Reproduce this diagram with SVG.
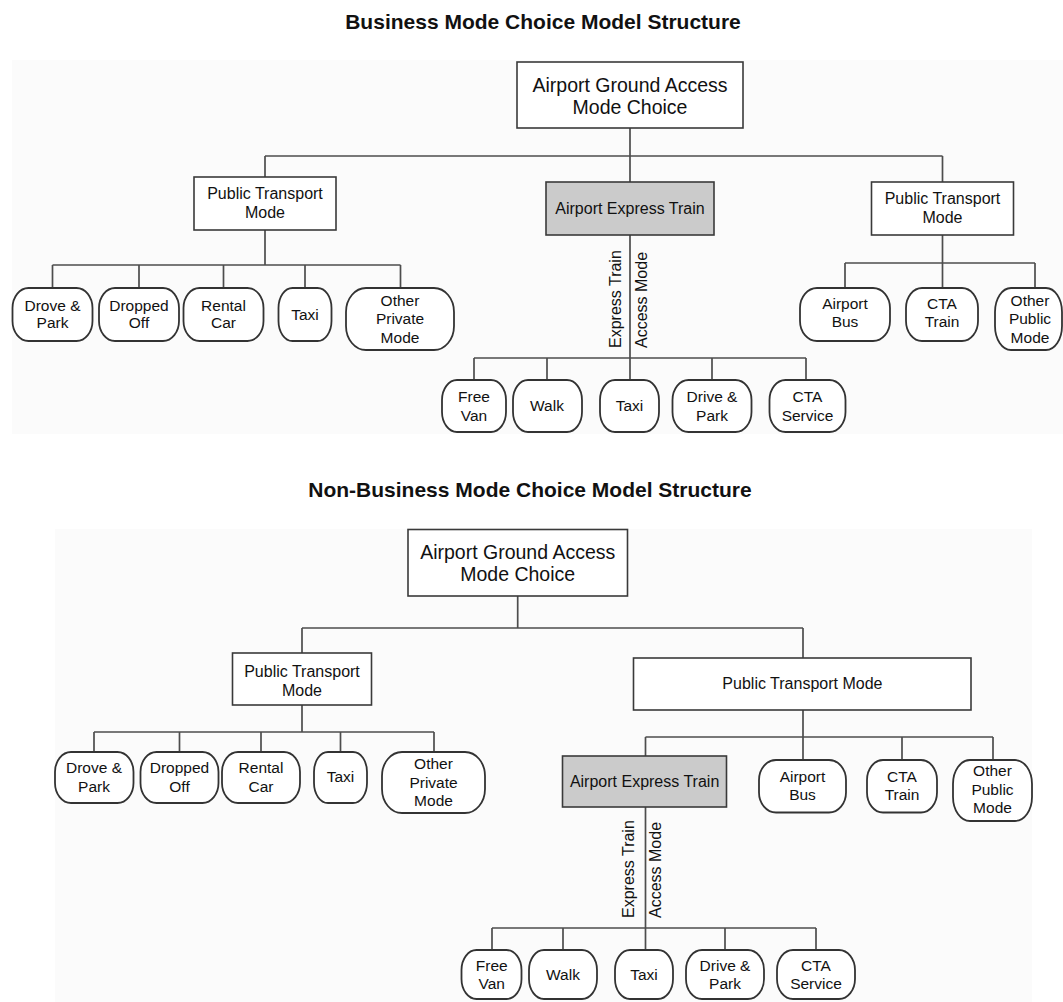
<svg xmlns="http://www.w3.org/2000/svg" width="1063" height="1002" viewBox="0 0 1063 1002">
  <style>
    .panel { fill: #fbfbfb; }
    .box { fill: #ffffff; stroke: #3a3a3a; stroke-width: 1.6; }
    .shade { fill: #cbcbcb; }
    .leaf { fill: #ffffff; stroke: #333333; stroke-width: 1.8; }
    .wire { fill: none; stroke: #4d4d4d; stroke-width: 1.7; }
    text { font-family: "Liberation Sans", Arial, Helvetica, sans-serif; fill: #111111; text-anchor: middle; }
    .title { font-size: 21px; font-weight: bold; }
    .big { font-size: 19.5px; }
    .mid { font-size: 16px; }
    .sm { font-size: 15.5px; }
    .rot { text-anchor: start; font-size: 16px; }
  </style>

  <!-- ===================== Business model ===================== -->
  <rect class="panel" x="12" y="60" width="1051" height="374"/>
  <text class="title" x="543" y="29">Business Mode Choice Model Structure</text>

  <g id="b-connectors">
    <path class="wire" d="M630,128 V182 M265,156 H942.5 M265,156 V177 M942.5,156 V182"/>
    <path class="wire" d="M265,230 V265 M52.5,265 H400.5 M52.5,265 V288 M139,265 V288 M223.5,265 V288 M305,265 V288 M400.5,265 V288"/>
    <path class="wire" d="M942.5,235 V288 M845,263 H1035 M845,263 V288 M1035,263 V288"/>
    <path class="wire" d="M630,235 V380 M474,358 H806 M474,358 V380 M547,358 V380 M712,358 V380 M806,358 V380"/>
  </g>

  <g id="b-root">
    <rect class="box" x="517" y="62" width="226" height="66"/>
    <text class="big" x="630" y="92">Airport Ground Access</text>
    <text class="big" x="630" y="114">Mode Choice</text>
  </g>
  <g id="b-private">
    <rect class="box" x="194" y="177" width="142" height="53"/>
    <text class="mid" x="265" y="199">Public Transport</text>
    <text class="mid" x="265" y="218">Mode</text>
  </g>
  <g id="b-express">
    <rect class="box shade" x="546" y="182" width="168" height="53"/>
    <text class="mid" x="630" y="213.5">Airport Express Train</text>
  </g>
  <g id="b-public">
    <rect class="box" x="871.5" y="182" width="142" height="53"/>
    <text class="mid" x="942.5" y="204">Public Transport</text>
    <text class="mid" x="942.5" y="223">Mode</text>
  </g>

  <g id="b-access-label">
    <text class="rot" transform="translate(621,348) rotate(-90)">Express Train</text>
    <text class="rot" transform="translate(647,348) rotate(-90)">Access Mode</text>
  </g>

  <g id="b-drove">
    <rect class="leaf" x="12.5" y="288" width="80" height="53" rx="16" ry="20"/>
    <text class="sm" x="52.5" y="311">Drove &amp;</text>
    <text class="sm" x="52.5" y="328">Park</text>
  </g>
  <g id="b-dropped">
    <rect class="leaf" x="99" y="288" width="80" height="53" rx="16" ry="20"/>
    <text class="sm" x="139" y="311">Dropped</text>
    <text class="sm" x="139" y="328">Off</text>
  </g>
  <g id="b-rental">
    <rect class="leaf" x="183.5" y="288" width="80" height="53" rx="16" ry="20"/>
    <text class="sm" x="223.5" y="311">Rental</text>
    <text class="sm" x="223.5" y="328">Car</text>
  </g>
  <g id="b-taxi">
    <rect class="leaf" x="278.5" y="288" width="53" height="53" rx="14" ry="20"/>
    <text class="sm" x="305" y="320">Taxi</text>
  </g>
  <g id="b-other-private">
    <rect class="leaf" x="346" y="288" width="108" height="62" rx="20" ry="24"/>
    <text class="sm" x="400" y="305.5">Other</text>
    <text class="sm" x="400" y="324">Private</text>
    <text class="sm" x="400" y="342.5">Mode</text>
  </g>
  <g id="b-bus">
    <rect class="leaf" x="800" y="288" width="90" height="53" rx="17" ry="20"/>
    <text class="sm" x="845" y="309">Airport</text>
    <text class="sm" x="845" y="327">Bus</text>
  </g>
  <g id="b-cta-train">
    <rect class="leaf" x="906" y="288" width="72" height="53" rx="16" ry="20"/>
    <text class="sm" x="942" y="309">CTA</text>
    <text class="sm" x="942" y="327">Train</text>
  </g>
  <g id="b-other-public">
    <rect class="leaf" x="995" y="288" width="67" height="62" rx="16" ry="24"/>
    <text class="sm" x="1030" y="305.5">Other</text>
    <text class="sm" x="1030" y="324">Public</text>
    <text class="sm" x="1030" y="342.5">Mode</text>
  </g>

  <g id="b-van">
    <rect class="leaf" x="442" y="380" width="64" height="52" rx="15" ry="20"/>
    <text class="sm" x="474" y="402">Free</text>
    <text class="sm" x="474" y="420.5">Van</text>
  </g>
  <g id="b-walk">
    <rect class="leaf" x="513" y="380" width="69" height="52" rx="15" ry="20"/>
    <text class="sm" x="547" y="410.5">Walk</text>
  </g>
  <g id="b-taxi2">
    <rect class="leaf" x="600" y="380" width="59" height="52" rx="15" ry="20"/>
    <text class="sm" x="629.5" y="410.5">Taxi</text>
  </g>
  <g id="b-drive">
    <rect class="leaf" x="672.5" y="380" width="79" height="52" rx="16" ry="20"/>
    <text class="sm" x="712" y="402">Drive &amp;</text>
    <text class="sm" x="712" y="420.5">Park</text>
  </g>
  <g id="b-cta-service">
    <rect class="leaf" x="769.5" y="380" width="76" height="52" rx="16" ry="20"/>
    <text class="sm" x="807.5" y="402">CTA</text>
    <text class="sm" x="807.5" y="420.5">Service</text>
  </g>

  <!-- ===================== Non-business model ===================== -->
  <rect class="panel" x="55" y="529" width="977" height="473"/>
  <text class="title" x="530" y="497">Non-Business Mode Choice Model Structure</text>

  <g id="n-connectors">
    <path class="wire" d="M517.7,596 V628 M302,628 H803 M302,628 V653 M803,628 V658"/>
    <path class="wire" d="M302,705 V732 M94,732 H434 M94,732 V752 M179.5,732 V752 M261,732 V752 M340.5,732 V752 M434,732 V752"/>
    <path class="wire" d="M803,710 V760 M645.5,737 H993 M645.5,737 V756 M902,737 V760 M993,737 V760"/>
    <path class="wire" d="M645.5,807 V950 M492,928 H816 M492,928 V950 M563,928 V950 M725,928 V950 M816,928 V950"/>
  </g>

  <g id="n-root">
    <rect class="box" x="408" y="529.5" width="219.5" height="66.5"/>
    <text class="big" x="517.7" y="558.5">Airport Ground Access</text>
    <text class="big" x="517.7" y="581">Mode Choice</text>
  </g>
  <g id="n-private">
    <rect class="box" x="232.5" y="653" width="139" height="52"/>
    <text class="mid" x="302" y="676.5">Public Transport</text>
    <text class="mid" x="302" y="695.5">Mode</text>
  </g>
  <g id="n-public">
    <rect class="box" x="633.5" y="658" width="337.5" height="52"/>
    <text class="mid" x="802.4" y="689">Public Transport Mode</text>
  </g>
  <g id="n-express">
    <rect class="box shade" x="562.5" y="756" width="164" height="51"/>
    <text class="mid" x="644.6" y="787">Airport Express Train</text>
  </g>

  <g id="n-access-label">
    <text class="rot" transform="translate(634,918) rotate(-90)">Express Train</text>
    <text class="rot" transform="translate(660.5,918) rotate(-90)">Access Mode</text>
  </g>

  <g id="n-drove">
    <rect class="leaf" x="55" y="752" width="78.5" height="51" rx="16" ry="20"/>
    <text class="sm" x="94" y="773">Drove &amp;</text>
    <text class="sm" x="94" y="791.5">Park</text>
  </g>
  <g id="n-dropped">
    <rect class="leaf" x="140.5" y="752" width="78" height="51" rx="16" ry="20"/>
    <text class="sm" x="179.5" y="773">Dropped</text>
    <text class="sm" x="179.5" y="791.5">Off</text>
  </g>
  <g id="n-rental">
    <rect class="leaf" x="222" y="752" width="78" height="51" rx="16" ry="20"/>
    <text class="sm" x="261" y="773">Rental</text>
    <text class="sm" x="261" y="791.5">Car</text>
  </g>
  <g id="n-taxi">
    <rect class="leaf" x="314" y="752" width="53" height="51" rx="14" ry="20"/>
    <text class="sm" x="340.5" y="782">Taxi</text>
  </g>
  <g id="n-other-private">
    <rect class="leaf" x="382" y="752" width="103" height="61" rx="20" ry="24"/>
    <text class="sm" x="433.5" y="769">Other</text>
    <text class="sm" x="433.5" y="787.5">Private</text>
    <text class="sm" x="433.5" y="806">Mode</text>
  </g>
  <g id="n-bus">
    <rect class="leaf" x="759" y="760" width="87" height="52.5" rx="17" ry="20"/>
    <text class="sm" x="802.5" y="781.5">Airport</text>
    <text class="sm" x="802.5" y="799.5">Bus</text>
  </g>
  <g id="n-cta-train">
    <rect class="leaf" x="867" y="760" width="70" height="52.5" rx="16" ry="20"/>
    <text class="sm" x="902" y="781.5">CTA</text>
    <text class="sm" x="902" y="799.5">Train</text>
  </g>
  <g id="n-other-public">
    <rect class="leaf" x="953" y="760" width="79" height="61" rx="17" ry="24"/>
    <text class="sm" x="992.5" y="776">Other</text>
    <text class="sm" x="992.5" y="795">Public</text>
    <text class="sm" x="992.5" y="813">Mode</text>
  </g>

  <g id="n-van">
    <rect class="leaf" x="461.5" y="950" width="60" height="49" rx="15" ry="20"/>
    <text class="sm" x="491.7" y="971">Free</text>
    <text class="sm" x="491.7" y="989">Van</text>
  </g>
  <g id="n-walk">
    <rect class="leaf" x="529" y="950" width="68" height="49" rx="15" ry="20"/>
    <text class="sm" x="563" y="979.5">Walk</text>
  </g>
  <g id="n-taxi2">
    <rect class="leaf" x="615" y="950" width="58" height="49" rx="15" ry="20"/>
    <text class="sm" x="644" y="979.5">Taxi</text>
  </g>
  <g id="n-drive">
    <rect class="leaf" x="686" y="950" width="78" height="49" rx="16" ry="20"/>
    <text class="sm" x="725" y="971">Drive &amp;</text>
    <text class="sm" x="725" y="989">Park</text>
  </g>
  <g id="n-cta-service">
    <rect class="leaf" x="777" y="950" width="78" height="49" rx="16" ry="20"/>
    <text class="sm" x="816" y="971">CTA</text>
    <text class="sm" x="816" y="989">Service</text>
  </g>
</svg>
